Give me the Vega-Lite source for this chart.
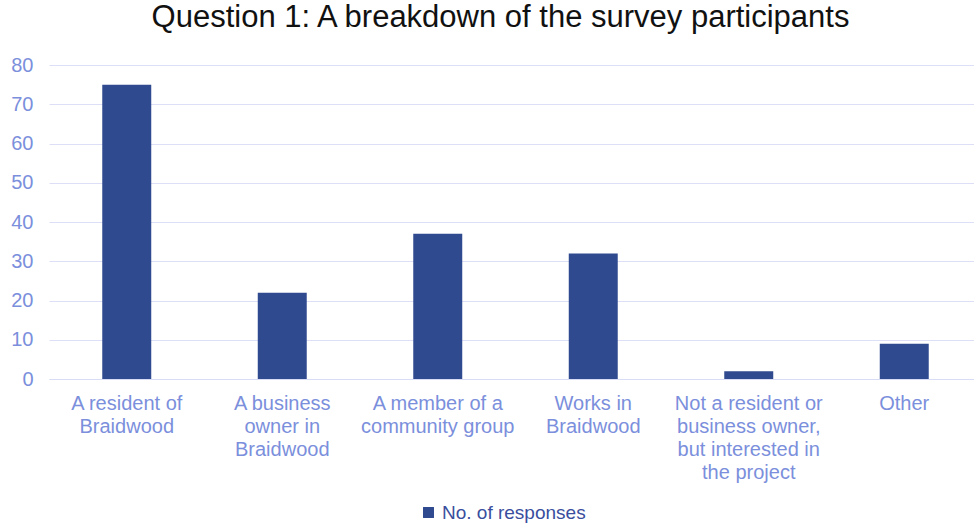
{
  "$schema": "https://vega.github.io/schema/vega-lite/v6.json",
  "autosize": {"type": "none"},
  "width": 925,
  "height": 314,
  "padding": {"left": 49, "top": 65, "right": 0, "bottom": 151},
  "background": "white",
  "title": {
    "text": "Question 1: A breakdown of the survey participants",
    "fontSize": 31,
    "font": "Liberation Sans",
    "fontWeight": "normal",
    "color": "#111111",
    "anchor": "middle",
    "offset": 21,
    "dx": -11
  },
  "data": {
    "values": [
      {"category": "A resident of\nBraidwood", "responses": 75, "series": "No. of responses"},
      {"category": "A business\nowner in\nBraidwood", "responses": 22, "series": "No. of responses"},
      {"category": "A member of a\ncommunity group", "responses": 37, "series": "No. of responses"},
      {"category": "Works in\nBraidwood", "responses": 32, "series": "No. of responses"},
      {"category": "Not a resident or\nbusiness owner,\nbut interested in\nthe project", "responses": 2, "series": "No. of responses"},
      {"category": "Other", "responses": 9, "series": "No. of responses"}
    ]
  },
  "mark": {"type": "bar"},
  "encoding": {
    "x": {
      "field": "category",
      "type": "nominal",
      "sort": null,
      "scale": {"paddingInner": 0.685, "paddingOuter": 0.3425, "range": [0, 933]},
      "axis": {
        "title": null,
        "labelAngle": 0,
        "labelExpr": "split(datum.label, '\\n')",
        "labelLimit": 0,
        "labelFont": "Liberation Sans",
        "labelFontSize": 20,
        "labelColor": "#7B8FDC",
        "labelLineHeight": 23,
        "labelPadding": 14,
        "ticks": false,
        "domain": true,
        "domainColor": "#D9DCF5",
        "grid": false
      }
    },
    "y": {
      "field": "responses",
      "type": "quantitative",
      "scale": {"domain": [0, 80]},
      "axis": {
        "title": null,
        "values": [0, 10, 20, 30, 40, 50, 60, 70, 80],
        "labelFont": "Liberation Sans",
        "labelFontSize": 20,
        "labelColor": "#7B8FDC",
        "labelPadding": 16,
        "ticks": false,
        "domain": false,
        "grid": true,
        "gridColor": "#DCDFF6",
        "gridWidth": 1
      }
    },
    "color": {
      "field": "series",
      "type": "nominal",
      "scale": {"range": ["#2F4A8F"]},
      "legend": {
        "title": null,
        "orient": "none",
        "legendX": 370,
        "legendY": 438,
        "symbolType": "square",
        "symbolSize": 120,
        "labelFont": "Liberation Sans",
        "labelFontSize": 19,
        "labelColor": "#3A4E9E"
      }
    }
  },
  "config": {"view": {"stroke": null}}
}
